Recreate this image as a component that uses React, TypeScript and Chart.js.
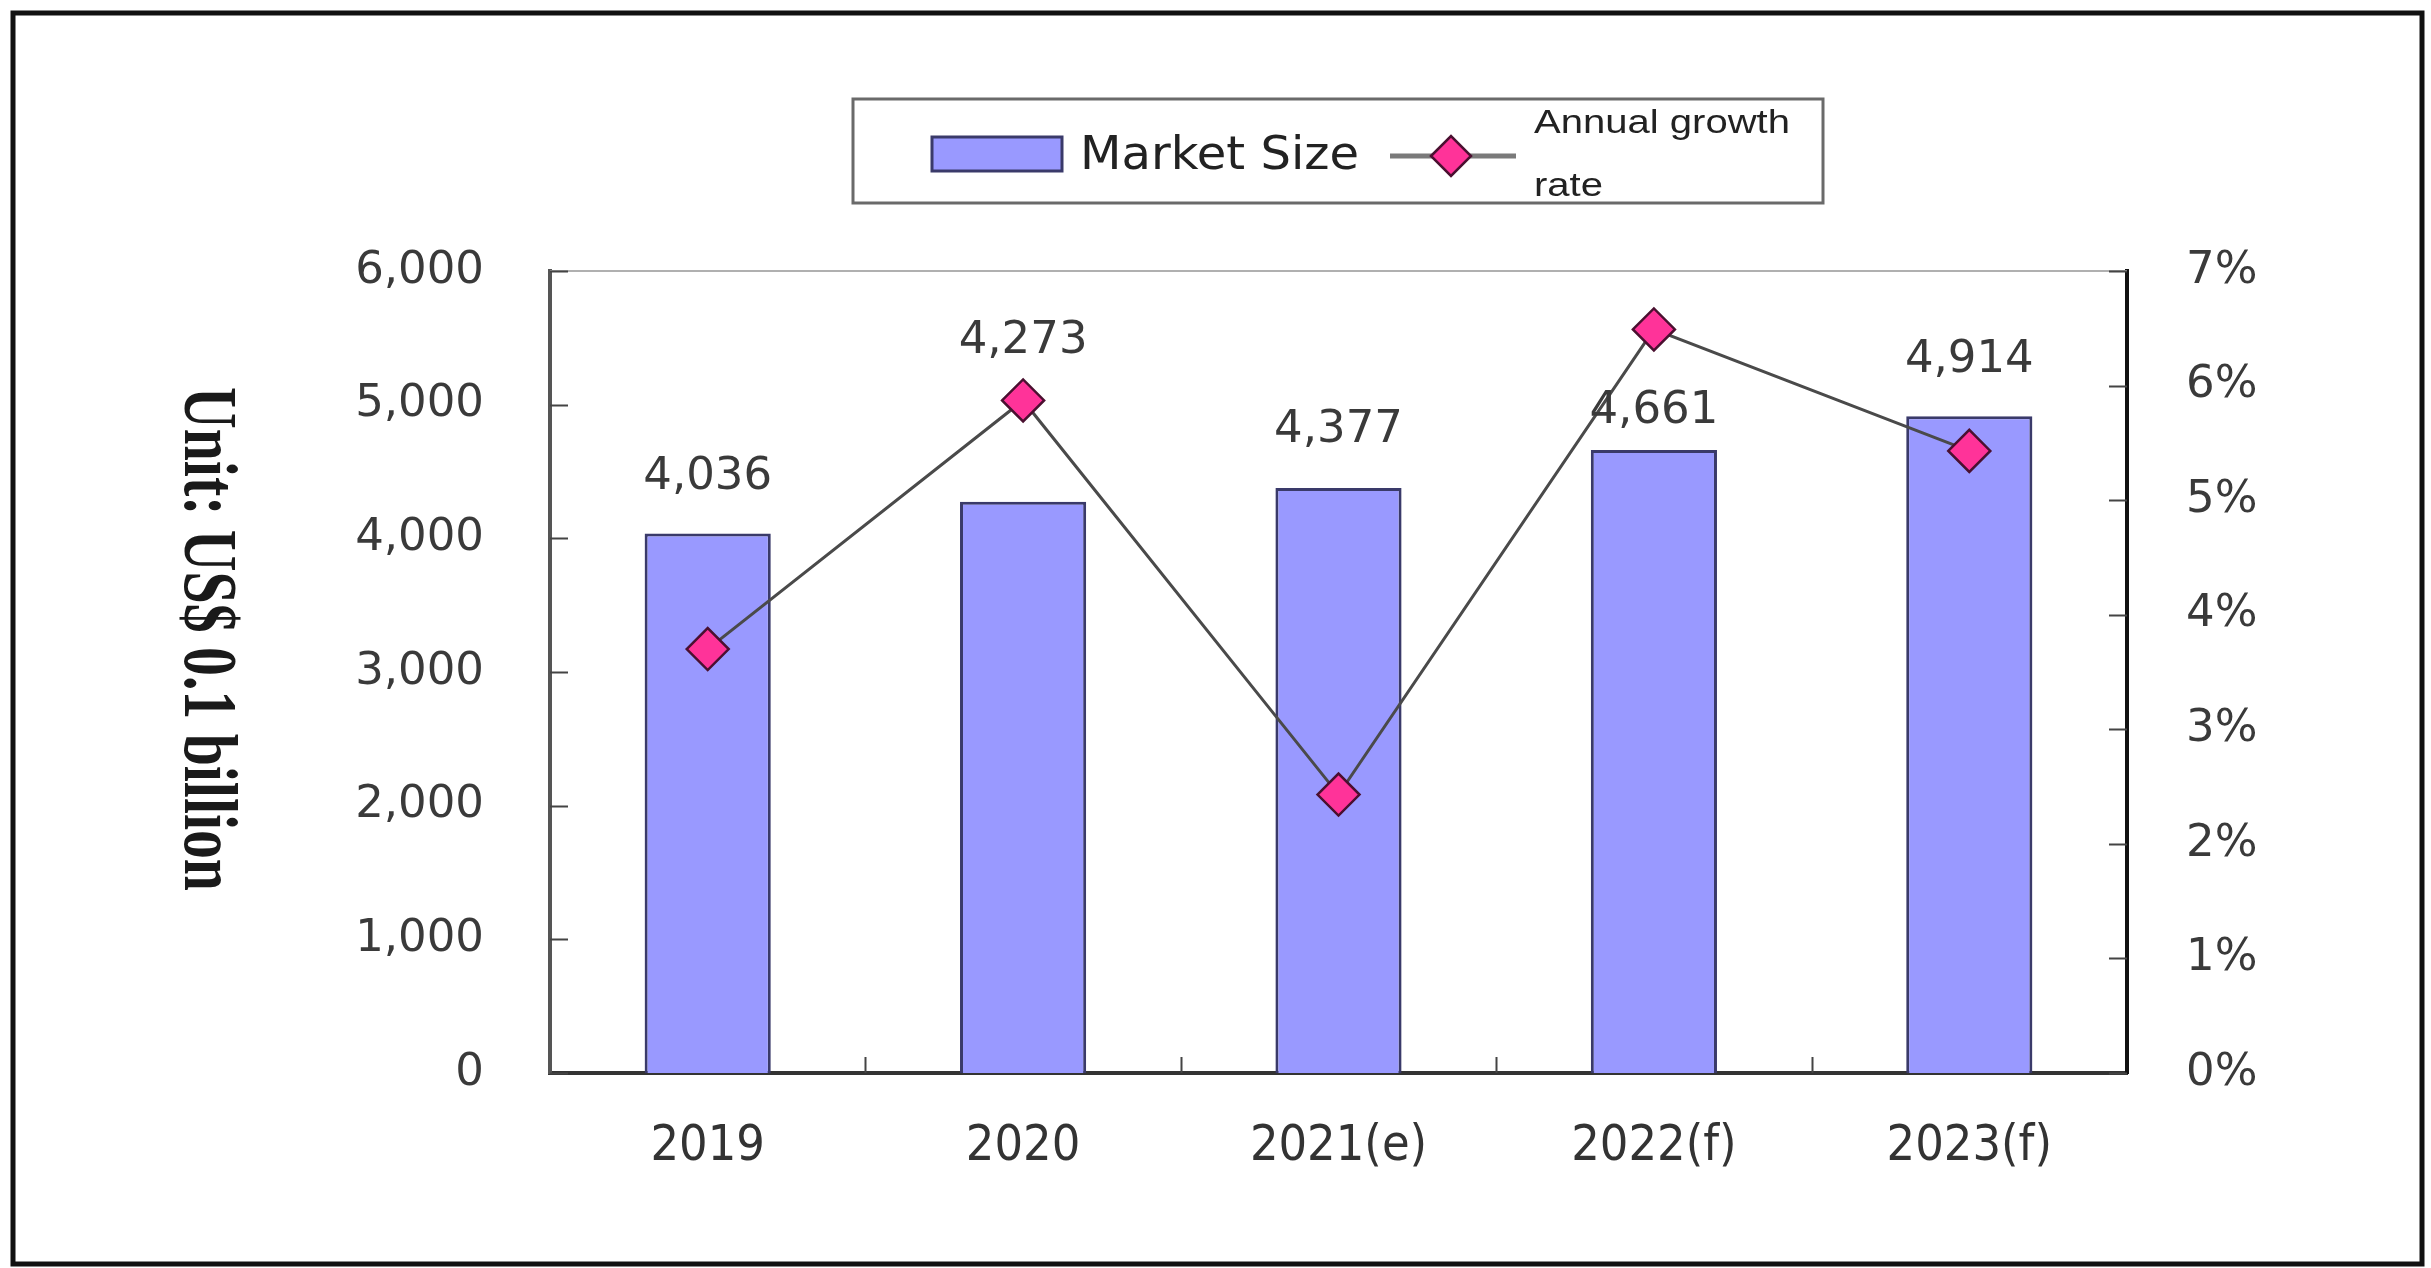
import React, { useEffect, useRef } from "react";
import { Chart, registerables } from "chart.js";

Chart.register(...registerables);

const categories = ["2019", "2020", "2021(e)", "2022(f)", "2023(f)"];
const marketSize = [4036, 4273, 4377, 4661, 4914];
const growthRate = [3.7, 5.87, 2.43, 6.49, 5.43];
const leftAxisMax = 6000;
const leftAxisStep = 1000;
const rightAxisMax = 7;
const rightAxisStep = 1;
const yTitle = "Unit: US$ 0.1 billion";
const barLegend = "Market Size";
const lineLegend = ["Annual growth", "rate"];

const W = 2431;
const H = 1268;

const BAR_FILL = "#9999FF";
const BAR_EDGE = "#3a3a6a";
const POINT_FILL = "#FF3399";
const POINT_EDGE = "#4a1030";
const TEXT = "#3a3a3a";

function fitText(ctx: CanvasRenderingContext2D, text: string, x: number, y: number, width: number | null, scale?: number) {
  const m = ctx.measureText(text).width;
  const s = scale ?? (width ? width / m : 1);
  ctx.save();
  ctx.translate(x, y);
  ctx.scale(s, 1);
  ctx.fillText(text, 0, 0);
  ctx.restore();
  return s;
}

function diamond(ctx: CanvasRenderingContext2D, x: number, y: number, r: number) {
  ctx.beginPath();
  ctx.moveTo(x - r, y);
  ctx.lineTo(x, y - r);
  ctx.lineTo(x + r, y);
  ctx.lineTo(x, y + r);
  ctx.closePath();
  ctx.fillStyle = POINT_FILL;
  ctx.fill();
  ctx.lineWidth = 2.5;
  ctx.strokeStyle = POINT_EDGE;
  ctx.stroke();
}

const decorPlugin = {
  id: "decor",
  afterDraw(chart: any, _args: any, opts: any) {
    const ctx: CanvasRenderingContext2D = chart.ctx;
    const area = chart.chartArea;
    const xs = chart.scales.x;
    const yl = chart.scales.y;
    const yr = chart.scales.y1;
    ctx.save();

    // outer frame
    ctx.strokeStyle = "#111";
    ctx.lineWidth = 5;
    ctx.strokeRect(13, 13, W - 22, H - 17);

    // top line of plot area
    ctx.strokeStyle = "#b0b0b0";
    ctx.lineWidth = 2;
    ctx.beginPath();
    ctx.moveTo(area.left, area.top);
    ctx.lineTo(area.right, area.top);
    ctx.stroke();

    // inward ticks
    ctx.strokeStyle = "#444";
    ctx.lineWidth = 2;
    ctx.beginPath();
    yl.ticks.forEach((t: any) => {
      const py = Math.round(yl.getPixelForValue(t.value)) + 0.5;
      ctx.moveTo(area.left, py);
      ctx.lineTo(area.left + 18, py);
    });
    yr.ticks.forEach((t: any) => {
      const py = Math.round(yr.getPixelForValue(t.value)) + 0.5;
      ctx.moveTo(area.right, py);
      ctx.lineTo(area.right - 18, py);
    });
    for (let i = 0; i < categories.length - 1; i++) {
      const px = Math.round((xs.getPixelForValue(i) + xs.getPixelForValue(i + 1)) / 2) + 0.5;
      ctx.moveTo(px, area.bottom);
      ctx.lineTo(px, area.bottom - 16);
    }
    ctx.stroke();

    // data labels
    const barMeta = chart.getDatasetMeta(0);
    const lineMeta = chart.getDatasetMeta(1);
    ctx.fillStyle = TEXT;
    ctx.font = "45px 'DejaVu Sans'";
    ctx.textAlign = "center";
    ctx.textBaseline = "middle";
    barMeta.data.forEach((el: any, i: number) => {
      const v = marketSize[i];
      let y = el.y - opts.labelLift[i];
      if (opts.aboveLine[i]) y = lineMeta.data[i].y - opts.pointLift;
      ctx.fillText(v.toLocaleString("en-US"), el.x, y);
    });

    // legend
    ctx.strokeStyle = "#6a6a6a";
    ctx.lineWidth = 3;
    ctx.strokeRect(853, 99, 970, 104);
    ctx.fillStyle = BAR_FILL;
    ctx.fillRect(932, 137, 130, 34);
    ctx.strokeStyle = BAR_EDGE;
    ctx.lineWidth = 3;
    ctx.strokeRect(932, 137, 130, 34);
    ctx.fillStyle = "#222";
    ctx.textAlign = "left";
    ctx.textBaseline = "middle";
    ctx.font = "46px 'DejaVu Sans'";
    fitText(ctx, barLegend, 1080, 157, 279);
    ctx.strokeStyle = "#7a7a7a";
    ctx.lineWidth = 5;
    ctx.beginPath();
    ctx.moveTo(1390, 156);
    ctx.lineTo(1516, 156);
    ctx.stroke();
    diamond(ctx, 1451, 156, 20);
    ctx.fillStyle = "#222";
    ctx.font = "34px 'Liberation Sans'";
    const s = fitText(ctx, lineLegend[0], 1534, 124, 256);
    fitText(ctx, lineLegend[1], 1534, 187, null, s);

    // y title (rotated clockwise)
    ctx.save();
    ctx.translate(185, 639);
    ctx.rotate(Math.PI / 2);
    ctx.font = "bold 76px 'Liberation Serif'";
    ctx.fillStyle = "#1a1a1a";
    ctx.textAlign = "left";
    ctx.textBaseline = "alphabetic";
    const tw = ctx.measureText(yTitle).width;
    const sc = 504 / tw;
    ctx.scale(sc, 1);
    ctx.fillText(yTitle, -tw / 2, 0);
    ctx.restore();

    ctx.restore();
  },
};

export default function App() {
  const ref = useRef<HTMLCanvasElement | null>(null);

  useEffect(() => {
    document.body.style.margin = "0";
    document.body.style.overflow = "hidden";
    const canvas = ref.current!;
    const tickFont = { family: "'DejaVu Sans'", size: 45 };
    const chart = new Chart(canvas, {
      type: "bar",
      data: {
        labels: categories,
        datasets: [
          {
            type: "bar",
            label: barLegend,
            data: marketSize,
            backgroundColor: BAR_FILL,
            borderColor: BAR_EDGE,
            borderWidth: 3,
            barPercentage: 0.4,
            categoryPercentage: 1,
            yAxisID: "y",
            order: 2,
          },
          {
            type: "line",
            label: lineLegend.join(" "),
            data: growthRate,
            yAxisID: "y1",
            borderColor: "#4a4a4a",
            borderWidth: 3,
            pointStyle: "rectRot",
            pointRadius: 21,
            pointHoverRadius: 21,
            pointBackgroundColor: POINT_FILL,
            pointBorderColor: POINT_EDGE,
            pointBorderWidth: 2.5,
            tension: 0,
            order: 1,
          },
        ] as any,
      },
      options: {
        responsive: false,
        animation: false,
        devicePixelRatio: 1,
        layout: { padding: { top: 271, left: 0, right: 0, bottom: 0 } },
        plugins: {
          legend: { display: false },
          tooltip: { enabled: false },
          decor: {
            labelLift: [56, 56, 58, 39, 56],
            aboveLine: [false, true, false, false, false],
            pointLift: 59,
          },
        } as any,
        scales: {
          x: {
            grid: { display: false, drawTicks: false },
            border: { display: true, color: "#333", width: 4 },
            ticks: {
              font: { family: "'DejaVu Sans Condensed', 'DejaVu Sans'", size: 50 },
              color: "#333",
              padding: 44,
              maxRotation: 0,
            },
            afterFit: (s: any) => {
              s.height = H - 1073;
            },
          },
          y: {
            position: "left",
            min: 0,
            max: leftAxisMax,
            grid: { display: false, drawTicks: false },
            border: { display: true, color: "#555", width: 4 },
            ticks: {
              stepSize: leftAxisStep,
              font: tickFont,
              color: TEXT,
              padding: 66,
              callback: (v: any) => Number(v).toLocaleString("en-US"),
            },
            afterFit: (s: any) => {
              s.width = 550;
            },
          },
          y1: {
            position: "right",
            min: 0,
            max: rightAxisMax,
            grid: { display: false, drawTicks: false },
            border: { display: true, color: "#111", width: 4 },
            ticks: {
              stepSize: rightAxisStep,
              font: tickFont,
              color: TEXT,
              padding: 59,
              callback: (v: any) => v + "%",
            },
            afterFit: (s: any) => {
              s.width = W - 2127;
            },
          },
        } as any,
      },
      plugins: [decorPlugin],
    });
    return () => chart.destroy();
  }, []);

  return (
    <div style={{ width: W, height: H, background: "#fff" }}>
      <canvas ref={ref} width={W} height={H} style={{ display: "block", width: W, height: H }} />
    </div>
  );
}
